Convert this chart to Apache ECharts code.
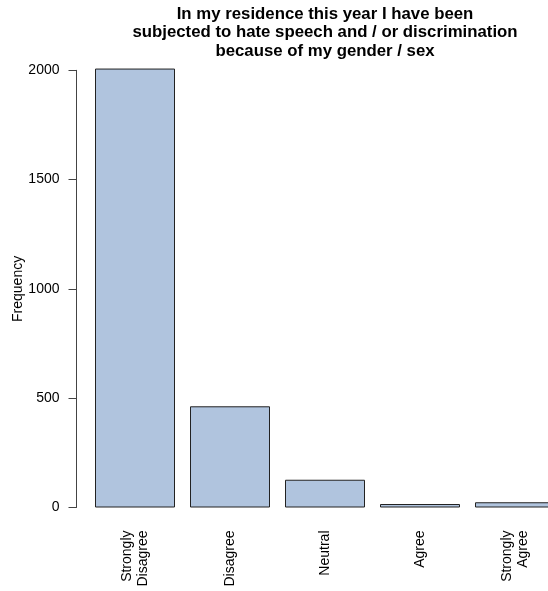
<!DOCTYPE html>
<html>
<head>
<meta charset="utf-8">
<script src="https://cdn.jsdelivr.net/npm/echarts@6/dist/echarts.min.js"></script>
<style>
html,body{margin:0;padding:0;background:#fff;}
#chart{width:548px;height:591px;}
</style>
</head>
<body>
<div id="chart"></div>
<script>
const titleText = 'In my residence this year I have been\nsubjected to hate speech and / or discrimination\nbecause of my gender / sex';
const categories = ['Strongly\nDisagree', 'Disagree', 'Neutral', 'Agree', 'Strongly\nAgree'];
const frequencies = [2008, 463, 127, 16, 24];
const yAxisName = 'Frequency';
const yMin = 0, yMax = 2000, yInterval = 500;

const FONT = '"Liberation Sans", Arial, Helvetica, sans-serif';
const chart = echarts.init(document.getElementById('chart'), null, {renderer: 'canvas'});
chart.setOption({
  animation: false,
  backgroundColor: '#ffffff',
  title: {
    text: titleText,
    left: 325,
    top: 5,
    padding: 0,
    textAlign: 'center',
    textStyle: {fontFamily: FONT, fontSize: 16.8, fontWeight: 'bold', color: '#000', lineHeight: 18.5}
  },
  grid: {left: 87.5, width: 475, top: 70.3, bottom: 83.5, containLabel: false, outerBoundsMode: 'none'},
  xAxis: {
    type: 'category',
    data: categories,
    axisLine: {show: false},
    axisTick: {show: false},
    axisLabel: {rotate: 90, margin: 23, fontFamily: FONT, fontSize: 14, color: '#000', lineHeight: 16.5, interval: 0}
  },
  yAxis: {
    type: 'value',
    min: yMin, max: yMax, interval: yInterval,
    offset: 11,
    name: yAxisName,
    nameLocation: 'middle',
    nameGap: 51,
    nameMoveOverlap: false,
    nameTextStyle: {fontFamily: FONT, fontSize: 14, color: '#000'},
    axisLine: {show: true, lineStyle: {color: '#444', width: 1}},
    axisTick: {show: true, length: 8, lineStyle: {color: '#444', width: 1}},
    axisLabel: {margin: 17, fontFamily: FONT, fontSize: 14, color: '#000', formatter: function (v) { return String(v); }},
    splitLine: {show: false}
  },
  series: [{
    type: 'bar',
    data: frequencies,
    barWidth: 80,
    clip: false,
    itemStyle: {color: '#B0C4DE', borderColor: '#222', borderWidth: 1}
  }]
});
</script>
</body>
</html>
